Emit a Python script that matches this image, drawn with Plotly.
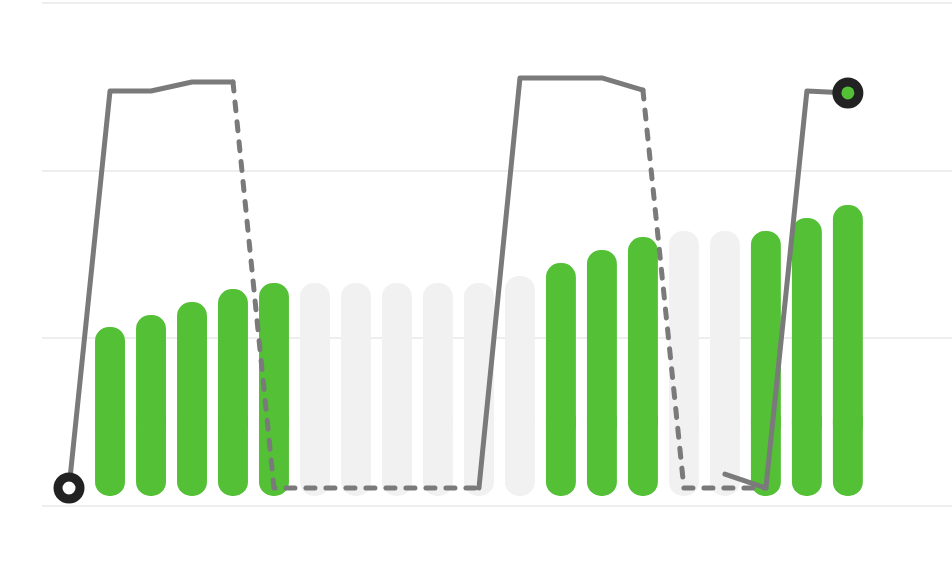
import plotly.graph_objects as go

# ---- data ----
bar_x = list(range(1, 20))
bar_values = [106.8, 113.9, 121.7, 129.4, 133.0, 133.0, 133.0, 133.0, 133.0, 133.0,
              137.2, 144.9, 152.7, 160.4, 164.0, 164.0, 164.0, 171.8, 179.5]
bar_active = [1, 1, 1, 1, 1, 0, 0, 0, 0, 0, 0, 1, 1, 1, 0, 0, 1, 1, 1]

line_x = list(range(0, 20))
line_solid = [0, 97.8, 97.8, 100, 100, None, None, None, None, None,
              0, 101, 101, 101, 98, None, 3.4, 0, 97.8, 97.3]
line_dashed = [None, None, None, None, 100, 0, 0, 0, 0, 0,
               0, None, None, None, 98, 0, 0, 0, None, None]
end_points_x = [0, 19]
end_points_y = [0, 97.3]

# ---- style ----
GREEN = "#53c036"
GRAY_BAR = "#f1f1f1"
LINE = "#7a7a7a"
DARK = "#222222"
BAR_BASE = 6
SPLIT_LOW = 60
SPLIT_HIGH = 40
BAR_W = 0.73

colors = [GREEN if a else GRAY_BAR for a in bar_active]

fig = go.Figure()
# lower rounded part of each bar (overlaps the upper part)
fig.add_trace(go.Bar(
    x=bar_x, y=[BAR_BASE - SPLIT_LOW] * len(bar_x), base=SPLIT_LOW, width=BAR_W,
    marker=dict(color=colors, cornerradius=15, line=dict(width=0)),
    hoverinfo="skip", showlegend=False))
# upper rounded part of each bar
fig.add_trace(go.Bar(
    x=bar_x, y=[v - SPLIT_HIGH for v in bar_values], base=SPLIT_HIGH, width=BAR_W,
    marker=dict(color=colors, cornerradius=15, line=dict(width=0)),
    showlegend=False))

fig.add_trace(go.Scatter(
    x=line_x, y=line_dashed, mode="lines", yaxis="y2",
    line=dict(color=LINE, width=5, dash="9px,11px"),
    connectgaps=False, showlegend=False))
fig.add_trace(go.Scatter(
    x=line_x, y=line_solid, mode="lines", yaxis="y2",
    line=dict(color=LINE, width=5),
    connectgaps=False, showlegend=False))
fig.add_trace(go.Scatter(
    x=end_points_x, y=end_points_y, mode="markers", yaxis="y2",
    marker=dict(size=22, color=["#ffffff", GREEN], line=dict(color=DARK, width=9)),
    showlegend=False))

fig.update_layout(
    width=952, height=580,
    margin=dict(l=42, r=0, t=0, b=70),
    paper_bgcolor="white", plot_bgcolor="white",
    barmode="overlay",
    xaxis=dict(range=[-0.659, 21.54], showgrid=False, zeroline=False,
               showticklabels=False, showline=False, ticks=""),
    yaxis=dict(range=[-2.39, 301.79], dtick=100, tick0=0, showgrid=True,
               gridcolor="#eeeeee", gridwidth=2, zeroline=False,
               showticklabels=False, showline=False, ticks=""),
    yaxis2=dict(range=[-5.42, 120.2], overlaying="y", visible=False),
)

post = (
    "document.body.style.margin='0';"
    "var s=document.createElement('style');"
    "s.textContent='path.js-line{stroke-linecap:round;stroke-linejoin:round}';"
    "document.head.appendChild(s);"
)
fig.write_html("out.html", post_script=post, config={"displayModeBar": False})
